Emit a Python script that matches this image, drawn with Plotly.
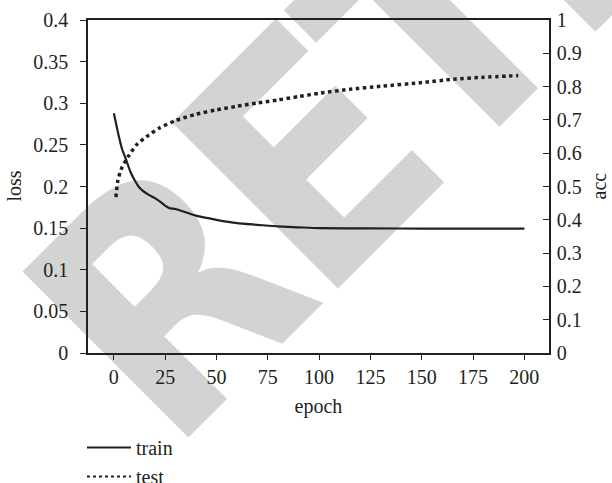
import plotly.graph_objects as go

# ---- data ----
train_epoch = [0, 2, 4, 6, 8, 10, 12, 14, 17, 20, 23, 25, 27, 30, 35, 40, 50, 60, 70, 80, 90, 100, 125, 150, 175, 200]
train_loss = [0.288, 0.265, 0.245, 0.232, 0.218, 0.208, 0.200, 0.195, 0.190, 0.186, 0.181, 0.177, 0.174, 0.173,
              0.169, 0.165, 0.160, 0.156, 0.154, 0.152, 0.151, 0.150, 0.1496, 0.1495, 0.1495, 0.1495]

test_epoch = [1, 2, 4, 7, 11, 16, 22, 30, 40, 50, 60, 70, 80, 90, 100, 115, 130, 150, 165, 180, 197]
test_acc = [0.468, 0.520, 0.558, 0.590, 0.625, 0.650, 0.675, 0.698, 0.717, 0.730, 0.741, 0.751, 0.760, 0.770,
            0.780, 0.792, 0.801, 0.812, 0.822, 0.828, 0.833]

x_ticks = [0, 25, 50, 75, 100, 125, 150, 175, 200]
loss_ticks = [0, 0.05, 0.1, 0.15, 0.2, 0.25, 0.3, 0.35, 0.4]
loss_labels = ["0", "0.05", "0.1", "0.15", "0.2", "0.25", "0.3", "0.35", "0.4"]
acc_ticks = [0, 0.1, 0.2, 0.3, 0.4, 0.5, 0.6, 0.7, 0.8, 0.9, 1]
acc_labels = ["0", "0.1", "0.2", "0.3", "0.4", "0.5", "0.6", "0.7", "0.8", "0.9", "1"]

# watermark letters (visible part of "RETRACTED") and their centres in paper fractions
wm_letters = ["R", "E", "T", "R"]
wm_x = [0.142, 0.447, 0.728, 1.025]
wm_y = [0.212, 0.633, 1.023, 1.431]

INK = "#231f20"
SERIF = "Liberation Serif, Times New Roman, serif"

fig = go.Figure()
fig.add_trace(go.Scatter(x=train_epoch, y=train_loss, name="train", mode="lines",
                         line=dict(color=INK, width=2.2, shape="spline", smoothing=0.6), yaxis="y"))
fig.add_trace(go.Scatter(x=test_epoch, y=test_acc, name="test", mode="lines", showlegend=False,
                         line=dict(color=INK, width=3.5, dash="dot", shape="spline", smoothing=0.6), yaxis="y2"))
# legend entry for "test" drawn with the finer dotted sample seen in the reference legend
fig.add_trace(go.Scatter(x=[None], y=[None], name="test", mode="lines",
                         line=dict(color=INK, width=2, dash="dot"), yaxis="y2"))

# RETRACTED watermark (drawn below the plot)
for ch, cx, cy in zip(wm_letters, wm_x, wm_y):
    fig.add_shape(type="line", xref="paper", yref="paper", x0=cx - 0.01, x1=cx + 0.01, y0=cy, y1=cy,
                  line=dict(color="rgba(0,0,0,0)", width=0), layer="below",
                  label=dict(text="<b>" + ch + "</b>", textangle=-45, textposition="middle",
                             xanchor="center", yanchor="middle", padding=0,
                             font=dict(family="DejaVu Sans Condensed, DejaVu Sans, sans-serif",
                                       size=322, color="#d3d3d3")))

axis_common = dict(showline=True, linecolor=INK, linewidth=1.5, showgrid=False, zeroline=False,
                   automargin=False,
                   tickcolor=INK, tickwidth=1.3, tickfont=dict(family=SERIF, size=20, color=INK))

fig.update_layout(
    width=612, height=483,
    margin=dict(l=88, r=63, t=20, b=130, autoexpand=False),
    paper_bgcolor="white", plot_bgcolor="white",
    font=dict(family=SERIF, size=20, color=INK),
    xaxis=dict(range=[-12.6, 212], tickvals=x_ticks, ticks="outside", ticklen=5, mirror=True,
               title=dict(text="epoch", font=dict(family=SERIF, size=20, color=INK), standoff=12),
               **axis_common),
    yaxis=dict(range=[0, 0.4], tickvals=loss_ticks, ticktext=loss_labels, ticks="outside", ticklen=6,
               ticklabelstandoff=8,
               **axis_common),
    yaxis2=dict(range=[0, 1], tickvals=acc_ticks, ticktext=acc_labels, ticks="inside", ticklen=6,
                overlaying="y", side="right", ticklabelstandoff=2,
                **axis_common),
    annotations=[
        dict(text="loss", textangle=-90, xref="paper", yref="paper", x=(13 - 88) / 461, y=0.5,
             xanchor="center", yanchor="middle", showarrow=False,
             font=dict(family=SERIF, size=20, color=INK)),
        dict(text="acc", textangle=-90, xref="paper", yref="paper", x=(598 - 88) / 461, y=0.5,
             xanchor="center", yanchor="middle", showarrow=False,
             font=dict(family=SERIF, size=20, color=INK)),
    ],
    showlegend=True,
    legend=dict(orientation="v", xref="container", yref="container", x=82 / 612, y=1 - 428 / 483,
                xanchor="left", yanchor="top",
                font=dict(family=SERIF, size=20, color=INK), bgcolor="rgba(0,0,0,0)",
                tracegroupgap=0, itemwidth=44),
)

fig.write_html("out.html", config={"displayModeBar": False},
               post_script="document.body.style.margin='0px';")
